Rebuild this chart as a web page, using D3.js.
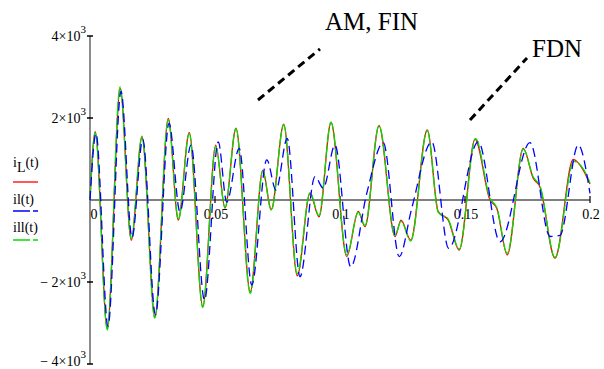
<!DOCTYPE html>
<html>
<head>
<meta charset="utf-8">
<script src="https://cdn.jsdelivr.net/npm/d3@7"></script>
<style>
  body { margin: 0; background: #fff; }
  text { font-family: "Liberation Serif", "Times New Roman", serif; }
</style>
</head>
<body>
<div id="chart"></div>
<script>
// iL(t) - red, solid
const tL = [0, 0.0021, 0.0069, 0.0121, 0.0165, 0.0208, 0.0260, 0.0313, 0.0353, 0.0397, 0.0451, 0.0503, 0.0540, 0.0584, 0.0641, 0.0691, 0.0725, 0.0775, 0.0829, 0.0880, 0.0916, 0.0964, 0.1027, 0.1073, 0.1100, 0.1156, 0.1220, 0.1244, 0.1283, 0.1349, 0.1393, 0.1433, 0.1477, 0.1540, 0.1600, 0.1627, 0.1669, 0.1733, 0.1773, 0.1800, 0.1860, 0.1933, 0.1973, 0.2000];
const iL = [0, 1670, -3130, 2720, -980, 1530, -2860, 1990, -490, 1650, -2600, 1340, -200, 1750, -2240, 720, -230, 1850, -1850, 160, -410, 1890, -1380, -280, -650, 1810, -890, -490, -980, 1710, -285, -490, -1220, 1480, 0, -200, -1340, 1260, 530, 320, -1420, 990, 730, 390];

// ill(t) - green, close to iL
const tIll = [0, 0.0021, 0.0069, 0.0120, 0.0165, 0.0208, 0.0259, 0.0313, 0.0354, 0.0397, 0.0451, 0.0503, 0.0540, 0.0584, 0.0641, 0.0691, 0.0725, 0.0775, 0.0829, 0.0880, 0.0916, 0.0964, 0.1027, 0.1073, 0.1100, 0.1156, 0.1220, 0.1244, 0.1283, 0.1349, 0.1393, 0.1433, 0.1477, 0.1542, 0.1600, 0.1627, 0.1669, 0.1733, 0.1773, 0.1800, 0.1860, 0.1935, 0.1973, 0.2000];
const ill = [0, 1640, -3170, 2760, -940, 1560, -2880, 1960, -470, 1620, -2620, 1300, -180, 1740, -2280, 700, -260, 1830, -1800, 180, -380, 1900, -1340, -300, -620, 1820, -870, -520, -1000, 1690, -300, -470, -1200, 1500, 40, -180, -1300, 1240, 560, 340, -1400, 940, 760, 420];

// il(t) - blue, dashed
const tl = [0, 0.0024, 0.0072, 0.0124, 0.0168, 0.0211, 0.0262, 0.0316, 0.0360, 0.0404, 0.0458, 0.0513, 0.0547, 0.0597, 0.0647, 0.0707, 0.0744, 0.0789, 0.0840, 0.0900, 0.0933, 0.0980, 0.1043, 0.1107, 0.1173, 0.1237, 0.1287, 0.1367, 0.1435, 0.1553, 0.1640, 0.1760, 0.1840, 0.1880, 0.1953, 0.2000];
const il = [0, 1620, -3080, 2650, -920, 1480, -2800, 1870, -290, 1340, -2440, 1420, -50, 1260, -2070, 980, 240, 1500, -1870, 570, 290, 1340, -1630, 160, 1400, -1380, -200, 1420, -1180, 1420, -1020, 1400, -890, -860, 1340, 160];

const xTicks = [0, 0.05, 0.1, 0.15, 0.2];
const xTickLabels = ["0", "0.05", "0.1", "0.15", "0.2"];
const yTicks = [4000, 2000, -2000, -4000];
const yTickLabels = [["4×10", "3"], ["2×10", "3"], ["− 2×10", "3"], ["− 4×10", "3"]];

const width = 604, height = 369;

const svg = d3.select("#chart").append("svg")
    .attr("width", width)
    .attr("height", height);

const x = d3.scaleLinear().domain([0, 0.2]).range([90, 590]);
const y = d3.scaleLinear().domain([-4000, 4000]).range([364, 36]);

// axes
svg.append("line")
    .attr("x1", x(0)).attr("x2", x(0))
    .attr("y1", y(4000)).attr("y2", y(-4000))
    .style("stroke", "#666").style("stroke-width", 1.5);
svg.append("line")
    .attr("x1", x(0)).attr("x2", x(0.2))
    .attr("y1", y(0)).attr("y2", y(0))
    .style("stroke", "#555").style("stroke-width", 1.5);

svg.selectAll(".ytick").data(yTicks).join("line")
    .attr("x1", x(0) - 3).attr("x2", x(0) + 3)
    .attr("y1", d => y(d)).attr("y2", d => y(d))
    .style("stroke", "#000").style("stroke-width", 1.5);

const yl = svg.selectAll(".ylab").data(yTicks).join("text")
    .attr("x", x(0) - 4)
    .attr("y", d => Math.min(y(d) + 5, 366))
    .attr("text-anchor", "end")
    .style("font-size", "14px");
yl.append("tspan").text((d, i) => yTickLabels[i][0]);
yl.append("tspan").attr("dy", -8).style("font-size", "11px").text((d, i) => yTickLabels[i][1]);

svg.selectAll(".xtick").data(xTicks.slice(1)).join("line")
    .attr("x1", d => x(d)).attr("x2", d => x(d))
    .attr("y1", y(0) - 4).attr("y2", y(0) + 3)
    .style("stroke", "#000").style("stroke-width", 1.2);

svg.selectAll(".xlab").data(xTicks).join("text")
    .attr("x", (d, i) => i === 0 ? x(d) + 4 : x(d) + 1)
    .attr("y", y(0) + 19)
    .attr("text-anchor", "middle")
    .style("font-size", "14px")
    .text((d, i) => xTickLabels[i]);

// curves
const line = d3.line()
    .x(d => x(d[0]))
    .y(d => y(d[1]))
    .curve(d3.curveMonotoneX);

const series = [
  {t: tL, v: iL, color: "#ff0000", dash: null},
  {t: tIll, v: ill, color: "#00e000", dash: "14,2"},
  {t: tl, v: il, color: "#0000ff", dash: "9,5"}
];

series.forEach(s => {
  svg.append("path")
      .datum(s.t.map((t, i) => [t, s.v[i]]))
      .attr("d", line)
      .style("fill", "none")
      .style("stroke", s.color)
      .style("stroke-width", 1.3)
      .style("stroke-dasharray", s.dash);
});

// legend
const leg = svg.append("g");
const l1 = leg.append("text").attr("x", 13).attr("y", 167).style("font-size", "14px");
l1.append("tspan").text("i");
l1.append("tspan").attr("dy", 5).text("L");
l1.append("tspan").attr("dy", -5).text("(t)");
leg.append("line").attr("x1", 13).attr("x2", 38).attr("y1", 182).attr("y2", 182)
    .style("stroke", "#ff0000").style("stroke-width", 1.3);
leg.append("text").attr("x", 13).attr("y", 204).style("font-size", "14px").text("il(t)");
leg.append("line").attr("x1", 13).attr("x2", 38).attr("y1", 211).attr("y2", 211)
    .style("stroke", "#0000ff").style("stroke-width", 1.3).style("stroke-dasharray", "17,3");
leg.append("text").attr("x", 13).attr("y", 232).style("font-size", "14px").text("ill(t)");
leg.append("line").attr("x1", 13).attr("x2", 38).attr("y1", 240).attr("y2", 240)
    .style("stroke", "#00e000").style("stroke-width", 1.3).style("stroke-dasharray", "17,3");

// annotations
svg.append("text").attr("x", 325).attr("y", 30).style("font-size", "25px").text("AM, FIN");
svg.append("line").attr("x1", 258).attr("y1", 100).attr("x2", 320).attr("y2", 49)
    .style("stroke", "#000").style("stroke-width", 3).style("stroke-dasharray", "8,5");
svg.append("text").attr("x", 532).attr("y", 57).style("font-size", "25px").text("FDN");
svg.append("line").attr("x1", 470).attr("y1", 120).attr("x2", 527).attr("y2", 58)
    .style("stroke", "#000").style("stroke-width", 3).style("stroke-dasharray", "8,5");
</script>
</body>
</html>
